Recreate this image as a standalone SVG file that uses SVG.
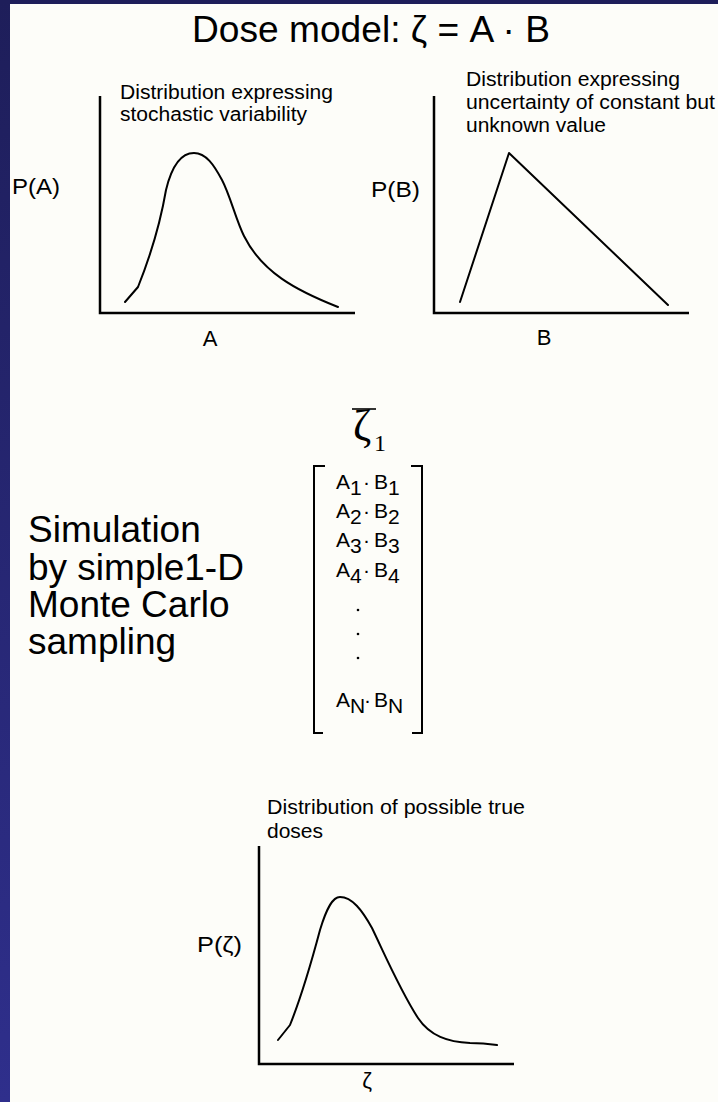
<svg xmlns="http://www.w3.org/2000/svg" width="718" height="1102" viewBox="0 0 718 1102">
  <defs>
    <linearGradient id="strip" x1="0" y1="0" x2="0" y2="1">
      <stop offset="0" stop-color="#1e1e5a"/>
      <stop offset="1" stop-color="#2f2f8c"/>
    </linearGradient>
  </defs>
  <style>
    .sans { font-family: "Liberation Sans", Arial, sans-serif; fill: #000; }
    .serif { font-family: "Liberation Serif", "Times New Roman", serif; fill: #000; }
    .note { font-size: 19.5px; }
    .axlab { font-size: 22px; }
    .row { font-size: 21px; }
    .axis { fill: none; stroke: #000; stroke-width: 2.5; }
    .curve { fill: none; stroke: #000; stroke-width: 2; stroke-linejoin: round; stroke-linecap: round; }
    .brk { fill: none; stroke: #000; stroke-width: 2; }
  </style>

  <rect x="0" y="0" width="718" height="1102" fill="#fdfdf9"/>
  <rect x="0" y="0" width="10" height="1102" fill="url(#strip)"/>
  <rect x="0" y="0" width="718" height="4" fill="#1e1e5a"/>

  <g id="title">
    <text class="sans" x="192" y="42" font-size="36" textLength="358" lengthAdjust="spacingAndGlyphs">Dose model: ζ = A · B</text>
  </g>

  <g id="chart-A">
    <path class="axis" d="M100,96 V313 H355"/>
    <path class="curve" d="M125,302 L138,287 C148,262 160,225 166,190 C172,165 182,153 194,153 C206,153 214,165 222,180 C230,195 236,220 244,236 C262,272 295,290 338,307"/>
    <text class="sans note" x="120" y="99" textLength="213" lengthAdjust="spacingAndGlyphs">Distribution expressing</text>
    <text class="sans note" x="120" y="121" textLength="187" lengthAdjust="spacingAndGlyphs">stochastic variability</text>
    <text class="sans axlab" x="12" y="194" textLength="48" lengthAdjust="spacingAndGlyphs">P(A)</text>
    <text class="sans axlab" x="210" y="346" text-anchor="middle">A</text>
  </g>

  <g id="chart-B">
    <path class="axis" d="M434,96 V313 H689"/>
    <path class="curve" d="M460,302 L509,153 L668,305"/>
    <text class="sans note" x="466" y="86" textLength="214" lengthAdjust="spacingAndGlyphs">Distribution expressing</text>
    <text class="sans note" x="466" y="109" textLength="249" lengthAdjust="spacingAndGlyphs">uncertainty of constant but</text>
    <text class="sans note" x="466" y="132" textLength="140" lengthAdjust="spacingAndGlyphs">unknown value</text>
    <text class="sans axlab" x="371" y="197" textLength="49" lengthAdjust="spacingAndGlyphs">P(B)</text>
    <text class="sans axlab" x="544" y="345" text-anchor="middle">B</text>
  </g>

  <g id="simulation-label">
    <text class="sans" font-size="37" x="28" y="542">Simulation</text>
    <text class="sans" font-size="37" x="28" y="580">by simple1-D</text>
    <text class="sans" font-size="37" x="28" y="617">Monte Carlo</text>
    <text class="sans" font-size="37" x="28" y="654">sampling</text>
  </g>

  <g id="matrix">
    <line x1="352" y1="409" x2="376" y2="409" stroke="#000" stroke-width="1.6"/>
    <text class="serif" font-size="44" x="353" y="440">ζ</text>
    <text class="serif" font-size="24" x="374" y="451">1</text>
    <path class="brk" d="M325,466 H314 V733 H323"/>
    <path class="brk" d="M411,466 H422 V733 H412"/>
    <text class="sans row" y="489"><tspan x="336">A</tspan><tspan x="350" y="495">1</tspan><tspan x="363" y="489">·</tspan><tspan x="374">B</tspan><tspan x="388" y="495">1</tspan></text>
    <text class="sans row" y="518"><tspan x="336">A</tspan><tspan x="350" y="524">2</tspan><tspan x="363" y="518">·</tspan><tspan x="374">B</tspan><tspan x="388" y="524">2</tspan></text>
    <text class="sans row" y="547"><tspan x="336">A</tspan><tspan x="350" y="553">3</tspan><tspan x="363" y="547">·</tspan><tspan x="374">B</tspan><tspan x="388" y="553">3</tspan></text>
    <text class="sans row" y="577"><tspan x="336">A</tspan><tspan x="350" y="583">4</tspan><tspan x="363" y="577">·</tspan><tspan x="374">B</tspan><tspan x="388" y="583">4</tspan></text>
    <circle cx="358" cy="610" r="1.3" fill="#000"/>
    <circle cx="358" cy="634" r="1.3" fill="#000"/>
    <circle cx="358" cy="658" r="1.3" fill="#000"/>
    <text class="sans row" y="707"><tspan x="336">A</tspan><tspan x="350" y="713">N</tspan><tspan x="364" y="707">·</tspan><tspan x="374">B</tspan><tspan x="388" y="713">N</tspan></text>
  </g>

  <g id="chart-zeta">
    <path class="axis" d="M259,846 V1064 H514"/>
    <path class="curve" d="M278,1040 L290,1025 C300,1000 312,960 320,930 C327,907 333,897 340,897 C352,897 362,910 372,928 C385,955 400,990 418,1018 C430,1036 448,1042 470,1043 C482,1043 490,1044 497,1045"/>
    <text class="sans note" x="267" y="814" textLength="258" lengthAdjust="spacingAndGlyphs">Distribution of possible true</text>
    <text class="sans note" x="267" y="838" textLength="56" lengthAdjust="spacingAndGlyphs">doses</text>
    <text class="sans axlab" x="197" y="952" textLength="45" lengthAdjust="spacingAndGlyphs">P(ζ)</text>
    <text class="sans axlab" x="367" y="1088" font-size="26" text-anchor="middle">ζ</text>
  </g>
</svg>
